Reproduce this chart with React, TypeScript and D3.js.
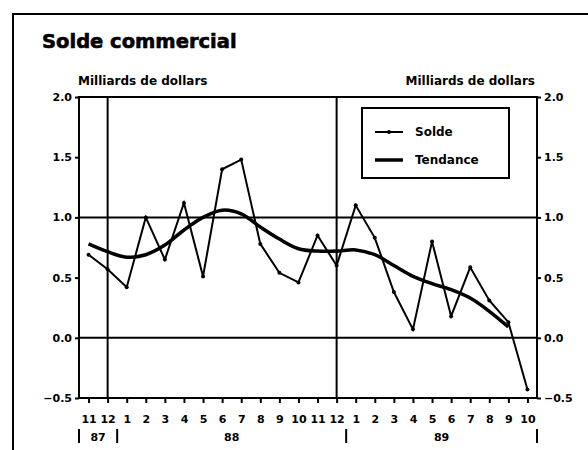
import { useRef, useEffect } from 'react';
import * as d3 from 'd3';

const months = ['11', '12', '1', '2', '3', '4', '5', '6', '7', '8', '9', '10', '11', '12', '1', '2', '3', '4', '5', '6', '7', '8', '9', '10'];
const solde = [0.69, 0.57, 0.42, 1.0, 0.65, 1.12, 0.51, 1.4, 1.48, 0.78, 0.54, 0.46, 0.85, 0.6, 1.1, 0.83, 0.38, 0.07, 0.8, 0.18, 0.585, 0.31, 0.13, -0.43];
const tendance = [0.78, 0.715, 0.67, 0.69, 0.77, 0.895, 1.0, 1.06, 1.03, 0.92, 0.82, 0.74, 0.72, 0.72, 0.73, 0.69, 0.6, 0.51, 0.45, 0.4, 0.33, 0.22, 0.09];
const yTicks = [2.0, 1.5, 1.0, 0.5, 0.0, -0.5];
const years = [
  { label: '87', from: 0, to: 1 },
  { label: '88', from: 2, to: 13 },
  { label: '89', from: 14, to: 23 },
];
const refLines = [1.0, 0.0];
const yearBreaks = [1, 13]; // vertical lines at december

const width = 588;
const height = 450;
const margin = { top: 97, left: 79, right: 51, bottom: 52 };
const font = '"DejaVu Sans", "Liberation Sans", sans-serif';

const Chart = () => {
  const ref = useRef<SVGSVGElement>(null);

  useEffect(() => {
    const svg = d3.select(ref.current);
    svg.selectAll('*').remove();

    const x = d3
      .scalePoint<number>()
      .domain(d3.range(months.length))
      .range([margin.left, width - margin.right])
      .padding(0.5);
    const step = x.step();

    const y = d3
      .scaleLinear()
      .domain([-0.5, 2.0])
      .range([height - margin.bottom, margin.top]);

    const bold = (sel, size) =>
      sel
        .style('font-family', font)
        .style('font-weight', 'bold')
        .style('font-size', `${size}px`)
        .attr('fill', '#000');

    // outer frame
    svg
      .append('path')
      .attr('d', `M13,${height} V14 H${width}`)
      .attr('fill', 'none')
      .attr('stroke', '#000')
      .attr('stroke-width', 2);

    svg
      .append('text')
      .text('Solde commercial')
      .attr('x', 42)
      .attr('y', 48)
      .call(bold, 19.5)
      .attr('stroke', '#000')
      .attr('stroke-width', 0.6);

    svg
      .append('text')
      .text('Milliards de dollars')
      .attr('x', 78)
      .attr('y', 85)
      .call(bold, 12);

    svg
      .append('text')
      .text('Milliards de dollars')
      .attr('x', 535)
      .attr('y', 85)
      .attr('text-anchor', 'end')
      .call(bold, 12);

    // axes
    const styleAxis = (g) => {
      g.select('.domain').remove();
      g.selectAll('line').attr('stroke-width', 2);
      g.selectAll('text').call(bold, 11);
    };

    svg
      .append('g')
      .attr('transform', `translate(${margin.left},0)`)
      .call(d3.axisLeft(y).tickValues(yTicks).tickFormat(d3.format('.1f')).tickSize(4).tickPadding(3))
      .call(styleAxis);

    svg
      .append('g')
      .attr('transform', `translate(${width - margin.right},0)`)
      .call(d3.axisRight(y).tickValues(yTicks).tickFormat(d3.format('.1f')).tickSize(4).tickPadding(3))
      .call(styleAxis);

    svg
      .append('g')
      .attr('transform', `translate(0,${height - margin.bottom})`)
      .call(d3.axisBottom(x).tickFormat((i) => months[i]).tickSize(5).tickPadding(12))
      .call(styleAxis);

    // year labels
    const yearG = svg.append('g');
    years.forEach((yr) => {
      yearG
        .append('text')
        .text(yr.label)
        .attr('x', (x(yr.from) + x(yr.to)) / 2)
        .attr('y', 441)
        .attr('text-anchor', 'middle')
        .call(bold, 11);
    });
    const bars = [x(0) - step / 2, x(1) + step / 2, x(13) + step / 2, x(23) + step / 2];
    yearG
      .selectAll('line')
      .data(bars)
      .enter()
      .append('line')
      .attr('x1', (d) => d)
      .attr('x2', (d) => d)
      .attr('y1', 429)
      .attr('y2', 443)
      .attr('stroke', '#000')
      .attr('stroke-width', 2);

    // reference lines
    svg
      .append('g')
      .selectAll('line')
      .data(refLines)
      .enter()
      .append('line')
      .attr('x1', margin.left)
      .attr('x2', width - margin.right)
      .attr('y1', (d) => y(d))
      .attr('y2', (d) => y(d))
      .attr('stroke', '#000')
      .attr('stroke-width', 2);

    svg
      .append('g')
      .selectAll('line')
      .data(yearBreaks)
      .enter()
      .append('line')
      .attr('x1', (d) => x(d))
      .attr('x2', (d) => x(d))
      .attr('y1', margin.top)
      .attr('y2', height - margin.bottom)
      .attr('stroke', '#000')
      .attr('stroke-width', 2);

    // plot frame
    svg
      .append('rect')
      .attr('x', margin.left)
      .attr('y', margin.top)
      .attr('width', width - margin.left - margin.right)
      .attr('height', height - margin.top - margin.bottom)
      .attr('fill', 'none')
      .attr('stroke', '#000')
      .attr('stroke-width', 2);

    // tendance
    const trendLine = d3
      .line<number>()
      .x((d, i) => x(i))
      .y((d) => y(d))
      .curve(d3.curveCatmullRom);

    svg
      .append('path')
      .datum(tendance)
      .attr('d', trendLine)
      .attr('fill', 'none')
      .attr('stroke', '#000')
      .attr('stroke-width', 3.5)
      .attr('stroke-linejoin', 'round');

    // solde
    const soldeLine = d3
      .line<number>()
      .x((d, i) => x(i))
      .y((d) => y(d));

    svg
      .append('path')
      .datum(solde)
      .attr('d', soldeLine)
      .attr('fill', 'none')
      .attr('stroke', '#000')
      .attr('stroke-width', 2);

    svg
      .append('g')
      .selectAll('circle')
      .data(solde)
      .enter()
      .append('circle')
      .attr('cx', (d, i) => x(i))
      .attr('cy', (d) => y(d))
      .attr('r', 2)
      .attr('fill', '#000');

    // legend
    const legend = svg.append('g');
    legend
      .append('rect')
      .attr('x', 362)
      .attr('y', 108)
      .attr('width', 147)
      .attr('height', 70)
      .attr('fill', '#fff')
      .attr('stroke', '#000')
      .attr('stroke-width', 2);
    legend
      .append('line')
      .attr('x1', 375)
      .attr('x2', 403)
      .attr('y1', 132)
      .attr('y2', 132)
      .attr('stroke', '#000')
      .attr('stroke-width', 2);
    legend.append('circle').attr('cx', 389).attr('cy', 132).attr('r', 2).attr('fill', '#000');
    legend
      .append('line')
      .attr('x1', 375)
      .attr('x2', 403)
      .attr('y1', 160)
      .attr('y2', 160)
      .attr('stroke', '#000')
      .attr('stroke-width', 3.5);
    [
      { t: 'Solde', y: 136 },
      { t: 'Tendance', y: 164 },
    ].forEach((d) => {
      legend
        .append('text')
        .text(d.t)
        .attr('x', 415)
        .attr('y', d.y)
        .call(bold, 12);
    });
  }, []);

  return <svg ref={ref} width={width} height={height}></svg>;
};

export default function App() {
  return (
    <div style={{ position: 'fixed', top: 0, left: 0, width, height, background: '#fff' }}>
      <Chart />
    </div>
  );
}
